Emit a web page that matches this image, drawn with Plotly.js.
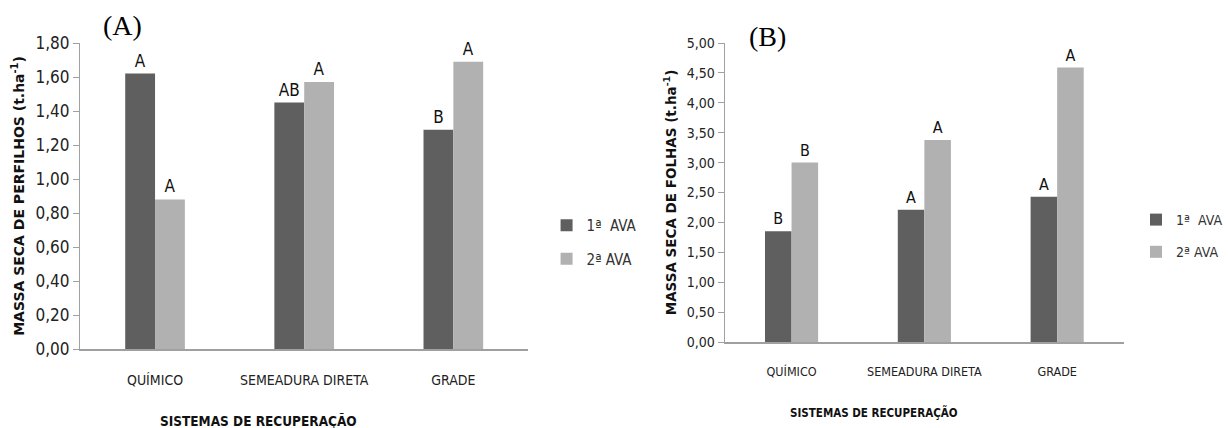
<!DOCTYPE html>
<html><head><meta charset="utf-8">
<script src="https://cdn.plot.ly/plotly-3.0.1.min.js"></script>
<style>html,body{margin:0;padding:0;background:#fff;overflow:hidden;width:1228px;height:428px}#c{width:1228px;height:428px}</style>
</head><body><div id="c"></div>
<script>
const categories = ["QUÍMICO", "SEMEADURA DIRETA", "GRADE"];
const seriesNames = ["1ª\u00a0\u00a0AVA", "2ª AVA"];
const perfilhos1 = [1.62, 1.45, 1.29];
const perfilhos2 = [0.88, 1.57, 1.69];
const perfilhosLetters1 = ["A", "AB", "B"];
const perfilhosLetters2 = ["A", "A", "A"];
const folhas1 = [1.85, 2.21, 2.43];
const folhas2 = [3.00, 3.38, 4.59];
const folhasLetters1 = ["B", "A", "A"];
const folhasLetters2 = ["B", "A", "A"];
const yTicksA = [0, 0.2, 0.4, 0.6, 0.8, 1.0, 1.2, 1.4, 1.6, 1.8];
const yTicksB = [0, 0.5, 1, 1.5, 2, 2.5, 3, 3.5, 4, 4.5, 5];

const dark = "#5f5f5f", light = "#b1b1b1", axisCol = "#a0a0a0";
const narrow = "DejaVu Sans Condensed, DejaVu Sans, sans-serif";

function bar(x, y, txt, name, color, xa, ya, leg, grp, size){
  return {type:"bar", x:x, y:y, name:name, text:txt, textposition:"outside", cliponaxis:false,
    textfont:{family:narrow, size:size, color:"#111"}, marker:{color:color}, xaxis:xa, yaxis:ya,
    legend:leg, legendgroup:grp, hoverinfo:"skip"};
}
const data = [
  bar(categories, perfilhos1, perfilhosLetters1, seriesNames[0], dark, "x", "y", "legend", "a1", 17),
  bar(categories, perfilhos2, perfilhosLetters2, seriesNames[1], light, "x", "y", "legend", "a2", 17),
  bar(categories, folhas1, folhasLetters1, seriesNames[0], dark, "x2", "y2", "legend2", "b1", 16),
  bar(categories, folhas2, folhasLetters2, seriesNames[1], light, "x2", "y2", "legend2", "b2", 16)
];
const W = 1228, H = 428;
const layout = {
  width:W, height:H, autosize:false, margin:{l:0,r:0,t:0,b:0},
  paper_bgcolor:"#fff", plot_bgcolor:"#fff", separators:",.",
  barmode:"group", bargap:0.6, bargroupgap:0, showlegend:true,
  xaxis:{domain:[82/W, 538/W], anchor:"y", showline:true, linecolor:axisCol, linewidth:1.5,
    ticks:"", showgrid:false, zeroline:false, tickfont:{family:narrow, size:14, color:"#222"}, ticklabelstandoff:18},
  yaxis:{domain:[1-349/H, 1-43/H], anchor:"x", range:[0,1.8], tickvals:yTicksA, tickformat:".2f",
    showline:true, linecolor:axisCol, linewidth:1.5, ticks:"outside", ticklen:6, tickcolor:axisCol,
    showgrid:false, zeroline:false, tickfont:{family:narrow, size:17, color:"#222"},
    title:{text:"MASSA SECA DE PERFILHOS (t.ha<sup>-1</sup>)", font:{family:"DejaVu Sans", size:14, color:"#111", weight:"bold"}, standoff:7}},
  xaxis2:{domain:[739/W, 1145/W], anchor:"y2", showline:true, linecolor:axisCol, linewidth:1.5,
    ticks:"", showgrid:false, zeroline:false, tickfont:{family:narrow, size:12.5, color:"#222"}, ticklabelstandoff:17},
  yaxis2:{domain:[1-342/H, 1-43/H], anchor:"x2", range:[0,5], tickvals:yTicksB, tickformat:".2f",
    showline:true, linecolor:axisCol, linewidth:1.5, ticks:"outside", ticklen:6, tickcolor:axisCol,
    showgrid:false, zeroline:false, tickfont:{family:narrow, size:14, color:"#222"},
    title:{text:"MASSA SECA DE FOLHAS (t.ha<sup>-1</sup>)", font:{family:"DejaVu Sans", size:13.5, color:"#111", weight:"bold"}, standoff:7}},
  legend:{x:557/W, y:1-209/H, xanchor:"left", yanchor:"top", traceorder:"grouped", tracegroupgap:11,
    itemwidth:30, font:{family:narrow, size:15, color:"#333"}, bgcolor:"rgba(0,0,0,0)"},
  legend2:{x:1158/W, y:1-204/H, xanchor:"left", yanchor:"top", traceorder:"grouped", tracegroupgap:11,
    itemwidth:30, font:{family:narrow, size:14, color:"#333"}, bgcolor:"rgba(0,0,0,0)"},
  annotations:[
    {xref:"paper", yref:"paper", x:263/W, y:1-421/H, xanchor:"center", yanchor:"middle", text:"SISTEMAS DE RECUPERAÇÃO", showarrow:false,
      font:{family:narrow, size:13.5, color:"#111", weight:"bold"}},
    {xref:"paper", yref:"paper", x:891/W, y:1-412/H, xanchor:"center", yanchor:"middle", text:"SISTEMAS DE RECUPERAÇÃO", showarrow:false,
      font:{family:narrow, size:11.5, color:"#111", weight:"bold"}},
    {xref:"paper", yref:"paper", x:125/W, y:1-26/H, xanchor:"center", yanchor:"middle", text:"(A)", showarrow:false,
      font:{family:"Liberation Serif, serif", size:28, color:"#000"}},
    {xref:"paper", yref:"paper", x:782/W, y:1-36/H, xanchor:"center", yanchor:"middle", text:"(B)", showarrow:false,
      font:{family:"Liberation Serif, serif", size:28, color:"#000"}}
  ]
};
Plotly.newPlot("c", data, layout, {staticPlot:true});
</script></body></html>
